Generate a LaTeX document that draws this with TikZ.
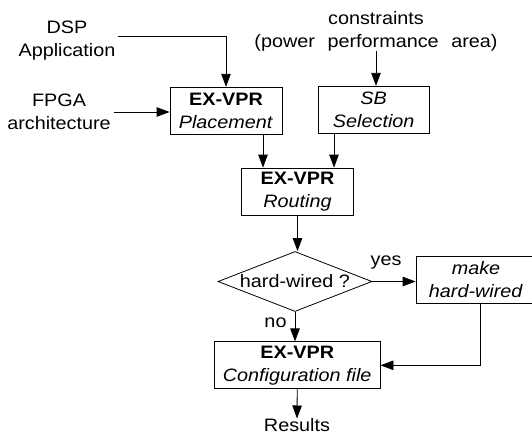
\documentclass[tikz,border=0pt]{standalone}
\usepackage{fontspec}
\setmainfont{Liberation Sans}[FakeStretch=1.1]
\usetikzlibrary{arrows.meta,shapes.geometric,calc}

\begin{document}
\begin{tikzpicture}[x=1pt,y=-1pt,
    font=\fontsize{18}{23}\selectfont,
    line width=0.8pt,
    arr/.style={-{Triangle[length=13pt,width=9.5pt]}},
    stepbox/.style={draw,align=center,inner sep=0pt,minimum height=47pt},
    lbl/.style={inner sep=0pt,align=center},
    decide/.style={draw,shape=diamond,aspect=2.57,inner sep=0pt,
                   minimum width=154pt,minimum height=60pt}]
  \useasboundingbox (0,0) rectangle (532,436);

  % inputs
  \node[lbl] (dsp) at (67,40.5) {DSP\\Application};
  \node[lbl] (fpga) at (59,112) {FPGA\\architecture};
  \node[lbl] (con) at (376,31) {constraints\\(power\hspace{0.7em}performance\hspace{0.7em}area)};

  % process boxes
  \node[stepbox,minimum width=112pt] (place) at (226,110.75) {\textbf{EX-VPR}\\\textit{Placement}};
  \node[stepbox,minimum width=111pt] (sb) at (373.7,109.75) {\textit{SB}\\\textit{Selection}};
  \node[stepbox,minimum width=111.6pt] (route) at (297.5,191.5) {\textbf{EX-VPR}\\\textit{Routing}};
  \node[decide] (hw) at (295,281.5) {hard-wired ?};
  \node[stepbox,minimum width=120pt] (make) at (476,279.5) {\textit{make}\\\textit{hard-wired}};
  \node[stepbox,minimum width=165.7pt] (cfg) at (297.2,365.3) {\textbf{EX-VPR}\\\textit{Configuration file}};
  \node[lbl] (res) at (297,425.5) {Results};

  % edge labels
  \node[lbl] (yes) at (386,263) {yes};
  \node[lbl] (no) at (275.5,323) {no};

  % connectors
  \coordinate (dspout) at ([xshift=2pt,yshift=4.5pt]dsp.east);
  \draw[arr] (dspout) -| (place.north);
  \draw[arr] ([xshift=3pt]fpga.east) -- (fpga.east -| place.west);
  \draw[arr] (con.south) -- (con.south |- sb.north);
  \coordinate (inL) at ([xshift=-34.5pt]route.north);
  \coordinate (inR) at ([xshift=36.5pt]route.north);
  \draw[arr] (place.south -| inL) -- (inL);
  \draw[arr] (sb.south -| inR) -- (inR);
  \draw[arr] (route.south) -- (route.south |- hw.north);
  \draw[arr] (hw.east) -- (hw.east -| make.west);
  \draw[arr] (hw.south) -- (hw.south |- cfg.north);
  \coordinate (mkout) at ([xshift=4pt]make.south);
  \draw[arr] (mkout) |- (cfg.east);
  \draw[arr] (cfg.south) -- (res.north);
\end{tikzpicture}
\end{document}
